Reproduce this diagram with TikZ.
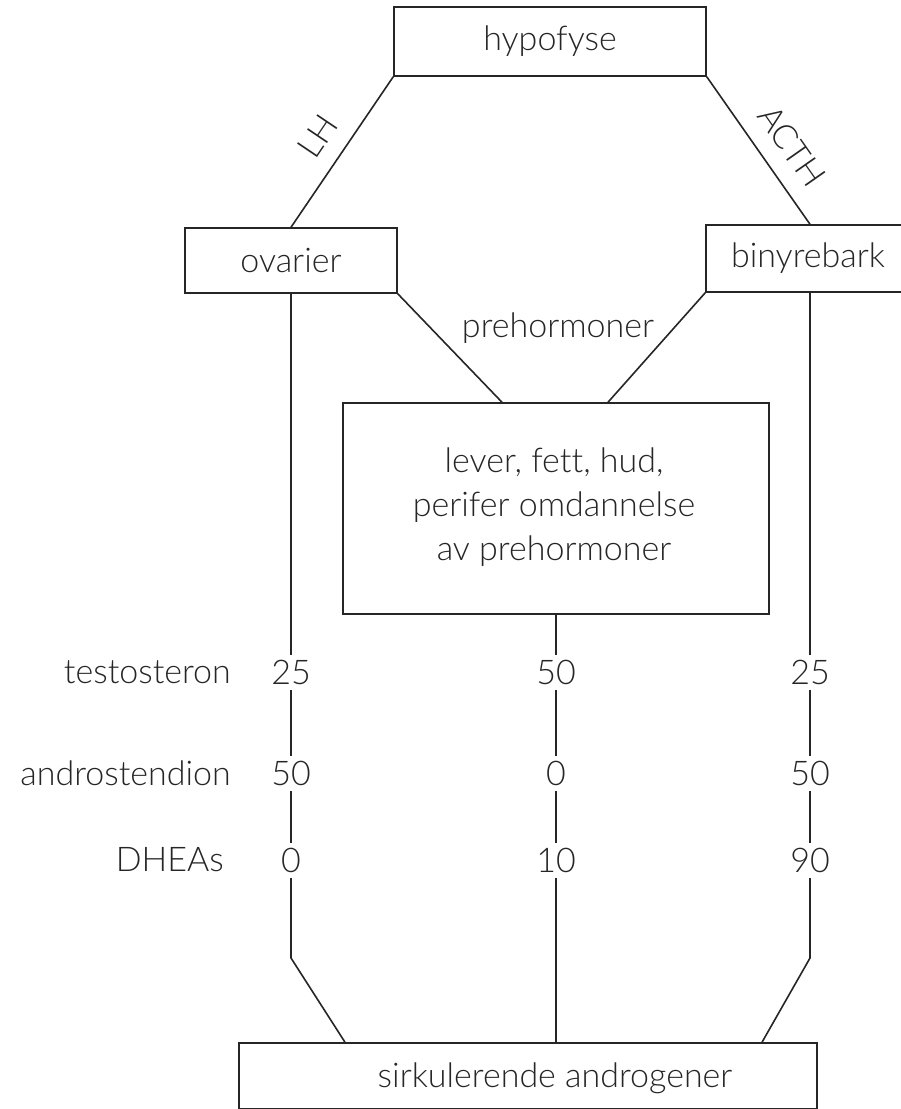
\documentclass[tikz,border=0pt]{standalone}
\usepackage{fontspec}
\IfFontExistsTF{Lato Light}{\setmainfont{Lato Light}[Ligatures=NoCommon]}{\setmainfont{Liberation Sans}}
\usetikzlibrary{calc}
\definecolor{ink}{gray}{0.15}
\begin{document}
\begin{tikzpicture}[x=1pt,y=-1pt,
  box/.style={draw=ink, line width=1.5pt, inner sep=0pt, fill=none},
  conn/.style={draw=ink, line width=1.6pt},
  txt/.style={font=\fontsize{34}{44}\selectfont, text=ink, inner sep=0pt},
  num/.style={font=\fontsize{34}{44}\selectfont, text=ink, fill=white, inner sep=0pt, minimum height=35pt, minimum width=44pt}]
\useasboundingbox (0,0) rectangle (901,1109);
\fill[white] (0,0) rectangle (901,1109);
% boxes
\node[box, minimum width=312pt, minimum height=69pt, txt] (hyp) at (550,41.5) {hypofyse};
\node[box, minimum width=212pt, minimum height=65pt, txt] (ova) at (291,260.5) {ovarier};
\node[box, minimum width=208pt, minimum height=67pt, txt] (biny) at (810,258.5) {};
\node[txt] (binyt) at (808,258.5) {binyrebark};
\node[box, minimum width=426pt, minimum height=211pt] (cen) at (556,508.5) {};
\node[txt, align=center] (cent) at (554,507) {lever, fett, hud,\\perifer omdannelse\\av prehormoner};
\node[box, minimum width=578pt, minimum height=66pt] (bot) at (528,1076) {};
\node[txt] (bott) at (555,1078) {sirkulerende androgener};
% connectors top
\draw[conn] (hyp.south west) -- (ova.north);
\draw[conn] (hyp.south east) -- (biny.north);
\node[txt, rotate=56] (lh) at (318,136) {LH};
\node[txt, rotate=-55] (acth) at (792,146) {ACTH};
\draw[conn] (ova.south east) -- ([xshift=-54pt]cen.north);
\draw[conn] (biny.south west) -- ([xshift=52pt]cen.north);
\node[txt] (preh) at (558,328) {prehormoner};
% columns
\coordinate (lk) at (291,958);
\coordinate (rk) at (810,958);
\draw[conn] (ova.south) -- (lk) -- ([xshift=-183pt]bot.north);
\draw[conn] (cen.south) -- (cen.south |- bot.north);
\draw[conn] (biny.south) -- (rk) -- ([xshift=234pt]bot.north);
% numbers
\node[num] (l1) at (291,672) {25};
\node[num] (l2) at (291,773) {50};
\node[num] (l3) at (291,860) {0};
\node[num] (c1) at (556,672) {50};
\node[num] (c2) at (556,773) {0};
\node[num] (c3) at (556,860) {10};
\node[num] (r1) at (810,672) {25};
\node[num] (r2) at (810,773) {50};
\node[num] (r3) at (810,860) {90};
% row labels
\node[txt, anchor=east] (rt) at (231,672) {testosteron};
\node[txt, anchor=east] (ra) at (231,773) {androstendion};
\node[txt, anchor=east] (rd) at (224,860) {DHEAs};
\end{tikzpicture}
\end{document}
